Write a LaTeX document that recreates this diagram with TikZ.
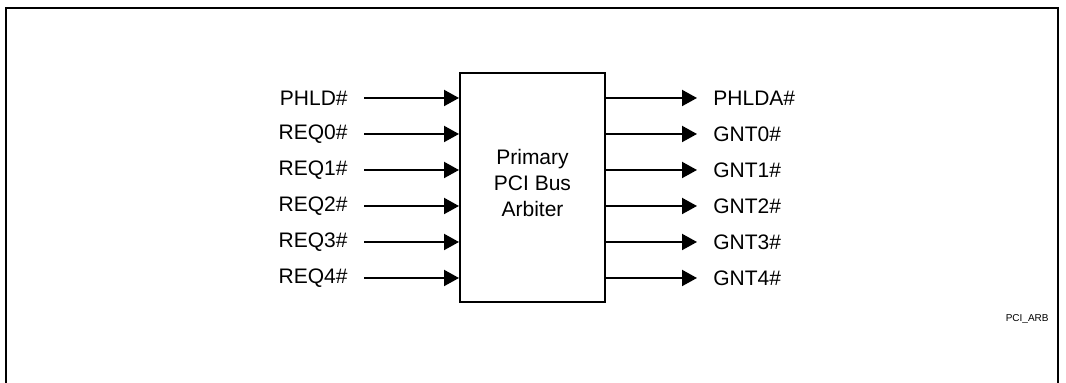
\documentclass[tikz,border=0pt]{standalone}
\usepackage{fontspec}
\setmainfont{Liberation Sans}
\usepackage{tikz}
\usetikzlibrary{arrows.meta}
\tikzset{
  frame/.style={draw=black, line width=1.1pt},
  arbiter/.style={draw=black, line width=1pt, minimum width=72.5pt, minimum height=114.5pt},
  arbtext/.style={align=center, inner sep=0pt, font=\fontsize{10.5}{13}\selectfont},
  sig/.style={draw=black, line width=1pt, -{Triangle[length=7.5pt,width=8pt]}},
  siglab/.style={inner xsep=8pt, inner ysep=0pt, font=\fontsize{10.5}{13}\selectfont},
  tag/.style={inner sep=0pt, font=\fontsize{5}{6}\selectfont},
}
\begin{document}
\begin{tikzpicture}[x=0.5pt, y=-0.5pt]
  \clip (0,0) rectangle (1066,383);

  % outer frame (bottom edge runs off the page)
  \draw[frame] (6,420) -- (6,8) -- (1058,8) -- (1058,420);

  % arbiter block
  \node[arbiter] (arb) at (532.5,187.5) {};
  \node[arbtext] (arbname) at ([yshift=2pt]arb.center) {Primary\\PCI Bus\\Arbiter};

  % request inputs
  \node[siglab, anchor=east] (phld) at (364,98) {PHLD\#};
  \node[siglab, anchor=east] (req0) at (364,134) {REQ0\#};
  \node[siglab, anchor=east] (req1) at (364,170) {REQ1\#};
  \node[siglab, anchor=east] (req2) at (364,206) {REQ2\#};
  \node[siglab, anchor=east] (req3) at (364,242) {REQ3\#};
  \node[siglab, anchor=east] (req4) at (364,278) {REQ4\#};
  \draw[sig] (phld) -- (phld -| arb.west);
  \draw[sig] (req0) -- (req0 -| arb.west);
  \draw[sig] (req1) -- (req1 -| arb.west);
  \draw[sig] (req2) -- (req2 -| arb.west);
  \draw[sig] (req3) -- (req3 -| arb.west);
  \draw[sig] (req4) -- (req4 -| arb.west);

  % grant outputs
  \node[siglab, anchor=west] (phlda) at (697,98) {PHLDA\#};
  \node[siglab, anchor=west] (gnt0) at (697,134) {GNT0\#};
  \node[siglab, anchor=west] (gnt1) at (697,170) {GNT1\#};
  \node[siglab, anchor=west] (gnt2) at (697,206) {GNT2\#};
  \node[siglab, anchor=west] (gnt3) at (697,242) {GNT3\#};
  \node[siglab, anchor=west] (gnt4) at (697,278) {GNT4\#};
  \draw[sig] (phlda -| arb.east) -- (phlda);
  \draw[sig] (gnt0 -| arb.east) -- (gnt0);
  \draw[sig] (gnt1 -| arb.east) -- (gnt1);
  \draw[sig] (gnt2 -| arb.east) -- (gnt2);
  \draw[sig] (gnt3 -| arb.east) -- (gnt3);
  \draw[sig] (gnt4 -| arb.east) -- (gnt4);

  % figure tag
  \node[tag, anchor=east] (figtag) at (1049,319) {PCI\_ARB};
\end{tikzpicture}
\end{document}
